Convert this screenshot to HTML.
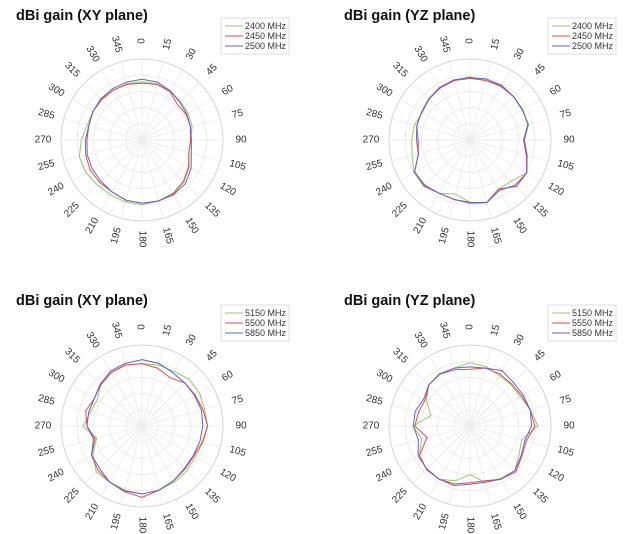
<!DOCTYPE html>
<html><head><meta charset="utf-8">
<style>
html,body{margin:0;padding:0;background:#fff;}
body{width:624px;height:534px;overflow:hidden;font-family:"Liberation Sans",sans-serif;}
svg{display:block;}
</style></head>
<body>
<svg id="chart" width="624" height="534" viewBox="0 0 624 534" xmlns="http://www.w3.org/2000/svg"></svg>
<script>
const angles = [0,15,30,45,60,75,90,105,120,135,150,165,180,195,210,225,240,255,270,285,300,315,330,345];
const tlLabels = ["2400 MHz","2450 MHz","2500 MHz"];
const tl2400 = [0.72,0.72,0.70,0.67,0.66,0.64,0.60,0.60,0.66,0.72,0.76,0.78,0.80,0.79,0.78,0.78,0.80,0.80,0.75,0.70,0.70,0.70,0.71,0.72];
const tl2450 = [0.70,0.71,0.69,0.62,0.63,0.62,0.60,0.60,0.67,0.73,0.77,0.78,0.78,0.77,0.74,0.74,0.74,0.72,0.70,0.68,0.70,0.71,0.71,0.71];
const tl2500 = [0.75,0.74,0.70,0.66,0.64,0.62,0.61,0.63,0.70,0.76,0.78,0.78,0.78,0.77,0.74,0.72,0.71,0.70,0.68,0.68,0.70,0.72,0.73,0.74];
const trLabels = ["2400 MHz","2450 MHz","2500 MHz"];
const tr2400 = [0.78,0.76,0.76,0.76,0.74,0.75,0.67,0.73,0.81,0.72,0.70,0.80,0.77,0.69,0.76,0.81,0.80,0.74,0.72,0.71,0.68,0.71,0.74,0.76];
const tr2450 = [0.76,0.76,0.77,0.76,0.75,0.74,0.66,0.72,0.81,0.81,0.70,0.80,0.78,0.76,0.76,0.80,0.79,0.66,0.64,0.68,0.69,0.72,0.74,0.76];
const tr2500 = [0.77,0.78,0.78,0.76,0.75,0.74,0.67,0.73,0.81,0.79,0.72,0.80,0.77,0.76,0.76,0.79,0.79,0.66,0.66,0.68,0.69,0.72,0.75,0.77];
const blLabels = ["5150 MHz","5500 MHz","5850 MHz"];
const bl5150 = [0.77,0.78,0.78,0.82,0.82,0.80,0.81,0.78,0.76,0.78,0.80,0.82,0.84,0.82,0.80,0.80,0.70,0.58,0.73,0.66,0.64,0.72,0.76,0.78];
const bl5500 = [0.77,0.74,0.69,0.75,0.76,0.78,0.81,0.77,0.74,0.75,0.78,0.82,0.88,0.84,0.80,0.77,0.72,0.60,0.68,0.72,0.68,0.72,0.76,0.78];
const bl5850 = [0.82,0.80,0.76,0.75,0.75,0.76,0.75,0.74,0.73,0.74,0.78,0.82,0.84,0.83,0.80,0.74,0.72,0.62,0.68,0.68,0.68,0.73,0.78,0.80];
const brLabels = ["5150 MHz","5550 MHz","5850 MHz"];
const br5150 = [0.78,0.76,0.72,0.72,0.72,0.77,0.84,0.66,0.70,0.78,0.75,0.72,0.60,0.70,0.76,0.76,0.72,0.62,0.70,0.50,0.62,0.72,0.75,0.74];
const br5550 = [0.70,0.74,0.74,0.73,0.74,0.77,0.80,0.72,0.74,0.80,0.76,0.70,0.70,0.74,0.76,0.76,0.72,0.55,0.68,0.66,0.64,0.72,0.74,0.72];
const br5850 = [0.73,0.74,0.79,0.76,0.76,0.77,0.76,0.70,0.73,0.78,0.76,0.72,0.72,0.76,0.76,0.75,0.74,0.66,0.70,0.70,0.66,0.72,0.74,0.74];

const COLORS = ["#92c96f","#e8494f","#6464c4"];
const R = 81;
const NS = "http://www.w3.org/2000/svg";
const svg = document.getElementById("chart");
function mk(tag, attrs, parent){
  const e = document.createElementNS(NS, tag);
  for (const k in attrs) e.setAttribute(k, attrs[k]);
  (parent||svg).appendChild(e);
  return e;
}
function pt(cx, cy, ang, r){
  const a = ang*Math.PI/180;
  return [cx + r*Math.sin(a), cy - r*Math.cos(a)];
}
function drawChart(key, cx, cy, title, tx, ty, lx, ly, labels, series){
  const g = mk("g", {});
  
  
  const t = mk("text", {x: tx, y: ty, "font-size": 14.5, "font-weight": "bold", fill: "#111"}, g);
  t.textContent = title;
  
  
  for (let i = 1; i <= 5; i++){
    const c = mk("circle", {cx: cx, cy: cy, r: R*i/5, fill: "none", stroke: i===5 ? "#d4d4d4" : "#ececec", "stroke-width": 1}, g);
    
    
  }
  angles.forEach(function(a){
    const p = pt(cx, cy, a, R);
    const l = mk("line", {x1: cx, y1: cy, x2: p[0], y2: p[1], stroke: "#eeeeee", "stroke-width": 1}, g);
    
    
    const q = pt(cx, cy, a, R + 18);
    const rot = a <= 180 ? a - 90 : a - 270;
    const lab = mk("text", {x: q[0], y: q[1], "font-size": 10, fill: "#333", "text-anchor": "middle", "dominant-baseline": "central", transform: "rotate(" + rot + " " + q[0] + " " + q[1] + ")"}, g);
    lab.textContent = a;
    
    
  });
  series.forEach(function(vals, si){
    const pts = vals.map(function(v, i){ const p = pt(cx, cy, angles[i], v*R); return p[0].toFixed(1) + "," + p[1].toFixed(1); });
    const pg = mk("polygon", {points: pts.join(" "), fill: "none", stroke: COLORS[si], "stroke-width": 1}, g);
    
    
  });
  const lg = mk("g", {}, g);
  
  
  mk("rect", {x: lx, y: ly, width: 68, height: 36, fill: "#fff", stroke: "#ddd", "stroke-width": 1}, lg);
  labels.forEach(function(lbl, i){
    const yy = ly + 8 + i*10;
    const ln = mk("line", {x1: lx + 4, y1: yy, x2: lx + 22, y2: yy, stroke: COLORS[i], "stroke-width": 1}, lg);
    
    
    const tt = mk("text", {x: lx + 24, y: yy + 3, "font-size": 9, fill: "#333"}, lg);
    tt.textContent = lbl;
    
    
  });
}
drawChart("xy-24ghz", 142, 140, "dBi gain (XY plane)", 16, 20, 221, 18, tlLabels, [tl2400, tl2450, tl2500]);
drawChart("yz-24ghz", 470, 140, "dBi gain (YZ plane)", 344, 20, 548, 18, trLabels, [tr2400, tr2450, tr2500]);
drawChart("xy-5ghz", 142, 426, "dBi gain (XY plane)", 16, 305, 221, 305, blLabels, [bl5150, bl5500, bl5850]);
drawChart("yz-5ghz", 470, 426, "dBi gain (YZ plane)", 344, 305, 548, 305, brLabels, [br5150, br5550, br5850]);
</script>
</body></html>
